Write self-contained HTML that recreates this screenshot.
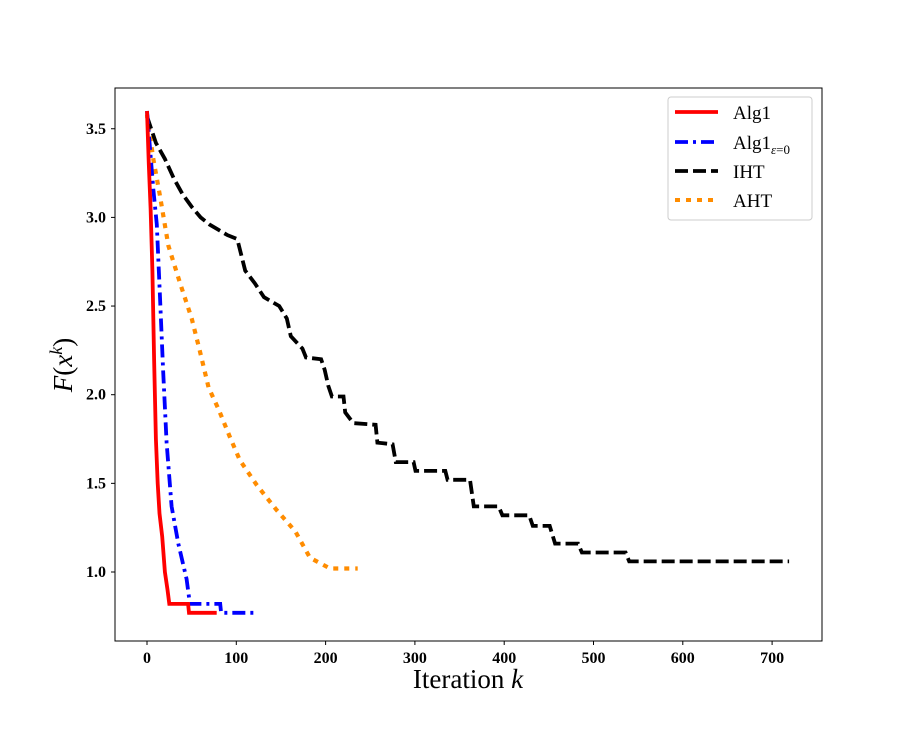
<!DOCTYPE html>
<html><head><meta charset="utf-8"><style>
body{margin:0;background:#fff}
svg text{font-family:"Liberation Serif",serif}
</style></head><body>
<svg id="chart" width="913" height="731" xmlns="http://www.w3.org/2000/svg">
<rect width="913" height="731" fill="#fff"/>
<g id="ticks"></g>
<g id="series"></g>
<rect x="115" y="88" width="707" height="553" fill="none" stroke="#000" stroke-width="1"/>
<text x="468" y="688" font-size="27" text-anchor="middle">Iteration <tspan font-style="italic">k</tspan></text>
<text transform="translate(72,365) rotate(-90)" font-size="27" text-anchor="middle"><tspan font-style="italic">F</tspan>(<tspan font-style="italic">x</tspan><tspan font-size="18" dy="-10" font-style="italic">k</tspan><tspan dy="10">)</tspan></text>
<g>
<rect x="668" y="97" width="144" height="123" rx="3" fill="#fff" stroke="#ccc" stroke-width="1"/>
<line x1="675" y1="112" x2="718" y2="112" stroke="#ff0000" stroke-width="3.8"/>
<text x="733" y="119" font-size="19">Alg1</text>
<line x1="675" y1="142" x2="718" y2="142" stroke="#0000ff" stroke-width="3.8" stroke-dasharray="13,5,3,5"/>
<text x="733" y="149" font-size="19">Alg1<tspan font-size="13" dy="5" font-style="italic">ε</tspan><tspan font-size="13">=0</tspan></text>
<line x1="675" y1="171" x2="718" y2="171" stroke="#000" stroke-width="3.8" stroke-dasharray="13,5"/>
<text x="733" y="178" font-size="19">IHT</text>
<line x1="675" y1="200" x2="718" y2="200" stroke="#ff8c00" stroke-width="4" stroke-dasharray="5,6"/>
<text x="733" y="207" font-size="19">AHT</text>
</g>
</svg>
<script>
const xTicks=[0,100,200,300,400,500,600,700];
const yTicks=[1.0,1.5,2.0,2.5,3.0,3.5];
const alg1K=[0,2,4,6,8,10,12,14,17,20,23,25,46,47,78];
const alg1F=[3.6,3.3,3.05,2.7,2.2,1.75,1.5,1.33,1.2,1.0,0.9,0.82,0.82,0.77,0.77];
const alg1e0K=[0,3,7,11,14.6,18,22,27.6,35,44.4,48,82,83,123];
const alg1e0F=[3.6,3.41,3.16,2.96,2.55,2.14,1.73,1.37,1.16,0.96,0.82,0.82,0.77,0.77];
const ihtK=[0,10,20,30,40,50,60,70,80,90,100,101.5,110,120.5,131,148,156.5,161,174,178,195,199,203,207,220,222,231,256,258,275,278.6,298.5,300.7,334,336.6,361.7,366,393.7,398,428,432,451,457,482.7,487,536,540,719];
const ihtF=[3.57,3.42,3.33,3.22,3.13,3.06,3.0,2.96,2.93,2.9,2.88,2.87,2.70,2.63,2.55,2.50,2.43,2.33,2.26,2.21,2.20,2.14,2.05,1.99,1.99,1.90,1.84,1.83,1.73,1.72,1.62,1.62,1.57,1.57,1.52,1.52,1.37,1.37,1.32,1.32,1.26,1.26,1.16,1.16,1.11,1.11,1.06,1.06];
const ahtK=[0,7,14.6,24,37,50,59,69,80,93,104,123,145,166,182.5,205,236];
const ahtF=[3.58,3.33,3.12,2.84,2.63,2.43,2.25,2.04,1.92,1.76,1.63,1.49,1.35,1.23,1.08,1.02,1.02];

const xs=k=>147+k*0.893;
const ys=v=>572-(v-1)*177.3;
const NS="http://www.w3.org/2000/svg";
const tg=document.getElementById('ticks');
xTicks.forEach(t=>{
  const l=document.createElementNS(NS,'line');
  l.setAttribute('x1',xs(t));l.setAttribute('x2',xs(t));l.setAttribute('y1',641);l.setAttribute('y2',645);l.setAttribute('stroke','#000');
  
  
  tg.appendChild(l);
  const tx=document.createElementNS(NS,'text');
  tx.setAttribute('x',xs(t));tx.setAttribute('y',663);tx.setAttribute('text-anchor','middle');tx.setAttribute('font-size','16');tx.setAttribute('font-weight','bold');
  tx.textContent=t;
  
  
  tg.appendChild(tx);
});
yTicks.forEach(t=>{
  const l=document.createElementNS(NS,'line');
  l.setAttribute('x1',111);l.setAttribute('x2',115);l.setAttribute('y1',ys(t));l.setAttribute('y2',ys(t));l.setAttribute('stroke','#000');
  
  
  tg.appendChild(l);
  const tx=document.createElementNS(NS,'text');
  tx.setAttribute('x',106);tx.setAttribute('y',ys(t)+5);tx.setAttribute('text-anchor','end');tx.setAttribute('font-size','16');tx.setAttribute('font-weight','bold');
  tx.textContent=t.toFixed(1);
  
  
  tg.appendChild(tx);
});
const sg=document.getElementById('series');
function draw(K,F,color,dash,w,name){
  const p=document.createElementNS(NS,'polyline');
  p.setAttribute('points',K.map((k,i)=>xs(k).toFixed(1)+','+ys(F[i]).toFixed(1)).join(' '));
  p.setAttribute('fill','none');p.setAttribute('stroke',color);p.setAttribute('stroke-width',w);
  if(dash)p.setAttribute('stroke-dasharray',dash);
  
  
  sg.appendChild(p);
}
draw(ahtK,ahtF,'#ff8c00','5,6','4.2','aht-line');
draw(ihtK,ihtF,'#000','13,5','3.8','iht-line');
draw(alg1e0K,alg1e0F,'#0000ff','13,5,3,5','3.8','alg1-eps0-line');
draw(alg1K,alg1F,'#ff0000',null,'3.8','alg1-line');
</script>
</body></html>
